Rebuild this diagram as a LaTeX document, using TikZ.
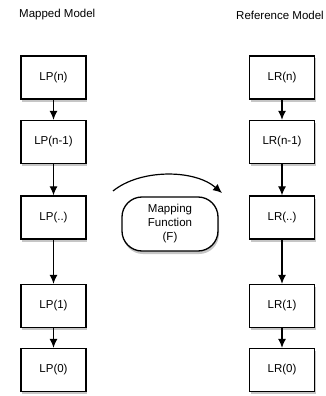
\documentclass[tikz,border=0pt]{standalone}
\usepackage{fontspec}
\setmainfont{Liberation Sans}
\usepackage{tikz}
\usetikzlibrary{arrows.meta}
\usetikzlibrary{shadows}
\tikzset{>=stealth}
\tikzset{layerbox/.style={draw, line width=1.3pt, fill=white, minimum width=65pt, minimum height=43pt, inner sep=0pt,
    font=\fontsize{11.5}{14}\selectfont, drop shadow={shadow xshift=1pt, shadow yshift=-2.5pt, opacity=0.45}}}
\tikzset{mapbox/.style={draw, line width=1.3pt, fill=white, rounded corners=20pt, minimum width=96pt, minimum height=54pt,
    inner sep=0pt, align=center, font=\fontsize{11.5}{14}\selectfont, drop shadow={shadow xshift=1pt, shadow yshift=-3pt, opacity=0.45}}}
\tikzset{title/.style={anchor=west, inner sep=0pt, font=\fontsize{11.5}{14}\selectfont}}
\tikzset{down/.style={-{Latex[length=9pt, width=8pt]}, line width=1.2pt}}

\begin{document}
\begin{tikzpicture}[x=1pt,y=-1pt]
        \useasboundingbox (0,0) rectangle (326,396);
        \node[title] (mappedtitle) at (19,15) {Mapped Model};
        \node[title] (reftitle) at (236,15) {Reference Model};
        % mapped model
        \node[layerbox] (lpn) at (53.5,77.5) {LP(n)};
        \node[layerbox] (lpnm) at (53.5,142) {LP(n-1)};
        \node[layerbox] (lpdots) at (53.5,217.5) {LP(..)};
        \node[layerbox] (lpone) at (53.5,306) {LP(1)};
        \node[layerbox] (lpzero) at (53.5,370) {LP(0)};
        \draw[down] (lpn) -- (lpnm);
        \draw[down] (lpnm) -- (lpdots);
        \draw[down] (lpdots) -- (lpone);
        \draw[down] (lpone) -- (lpzero);
        % reference model
        \node[layerbox] (lrn) at (282,77.5) {LR(n)};
        \node[layerbox] (lrnm) at (282,142) {LR(n-1)};
        \node[layerbox] (lrdots) at (282,217.5) {LR(..)};
        \node[layerbox] (lrone) at (282,306) {LR(1)};
        \node[layerbox] (lrzero) at (282,370) {LR(0)};
        \draw[down] (lrn) -- (lrnm);
        \draw[down] (lrnm) -- (lrdots);
        \draw[down] (lrdots) -- (lrone);
        \draw[down] (lrone) -- (lrzero);
        % mapping
        \node[mapbox] (mapfn) at (170,224) {Mapping\\Function\\(F)};
        \coordinate (mapstart) at (113,191);
        \coordinate (mapend) at (222,193);
        \draw[down] (mapstart) .. controls (140,169) and (194,169) .. (mapend);
\end{tikzpicture}
\end{document}
